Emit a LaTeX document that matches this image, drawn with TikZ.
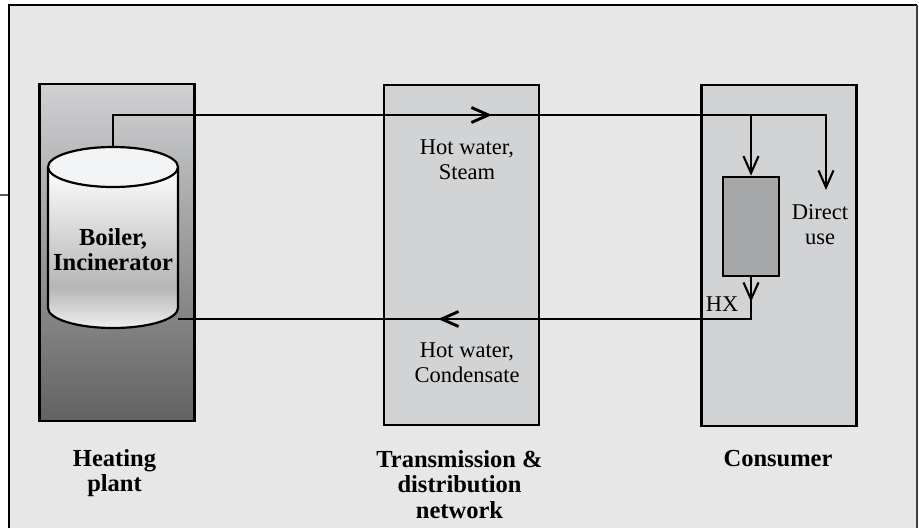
\documentclass[tikz,border=0pt]{standalone}
\usepackage{fontspec}
\setmainfont{Liberation Serif}
\usetikzlibrary{arrows.meta}

\definecolor{framebg}{HTML}{E7E7E7}
\definecolor{boxfill}{HTML}{D2D3D5}
\definecolor{hxfill}{HTML}{A6A7A9}
\definecolor{plantTop}{HTML}{D0D1D3}
\definecolor{plantBot}{HTML}{626262}
\definecolor{capfill}{HTML}{F3F4F6}
\definecolor{bandgray}{HTML}{B6B6B6}

\tikzset{
  barb/.tip={Straight Barb[length=17pt,width=15pt]},
  zone/.style={draw=black, line width=2.6pt, fill=boxfill, inner sep=0pt, minimum width=155pt},
  pipe/.style={draw=black, line width=2.1pt, line join=miter},
  heavypipe/.style={draw=black, line width=2.9pt},
  plaintext/.style={inner sep=0pt, anchor=north, align=center, font=\fontsize{22.5}{25}\selectfont},
  boldtext/.style={inner sep=0pt, anchor=north, align=center, font=\bfseries\fontsize{24.5}{25.5}\selectfont},
}

\begin{document}
\begin{tikzpicture}[x=1pt, y=-1pt]
\useasboundingbox (0,0) rectangle (919,528);

% outer panel
\fill[framebg] (9,5) rectangle (917,528);
\draw[line width=2.6pt, line join=miter] (9,528) -- (9,5) -- (917,5);
\draw[line width=1.6pt, black!75] (917,5) -- (917,528);
\draw[line width=1.2pt, black!65] (0,195) -- (8,195);

% the three zones
\node[zone, minimum height=337pt, top color=plantTop, bottom color=plantBot] (plant) at (117,252.5) {};
\node[zone, minimum height=340pt] (net) at (461.5,255) {};
\node[zone, minimum height=341pt] (cons) at (779,255.5) {};

% pipe routing points
\coordinate (s0) at (113,147);
\coordinate (sA0) at (433,115);
\coordinate (sA) at (492,115);
\coordinate (sB) at (751,115);
\coordinate (sC) at (826,115);
\coordinate (du) at (826,190);
\coordinate (r1) at (751,302);
\coordinate (r2) at (751,319);
\coordinate (rA0) at (493,319);
\coordinate (rA) at (438,319);
\coordinate (r3) at (178,319);

% heat exchanger
\node[draw=black, line width=2.6pt, fill=hxfill, inner sep=0pt,
      minimum width=56pt, minimum height=99pt] (hx) at (751,226.5) {};

% supply line
\draw[pipe, -{barb}] (s0) |- (sC) -- (du);
\draw[heavypipe, -{barb}] (sA0) -- (sA);
\draw[pipe, -{barb}] (sB) -- (hx.north);

% return line
\draw[pipe] (hx.south) -- (r2) -- (r3);
\draw[pipe, -{barb}] (hx.south) -- (r1);
\draw[heavypipe, -{barb}] (rA0) -- (rA);

% boiler cylinder
\begin{scope}
  \clip (48,167) -- (48,308) arc[start angle=180, end angle=0, x radius=65, y radius=20]
        -- (178,167) arc[start angle=0, end angle=-180, x radius=65, y radius=20] -- cycle;
  \shade[top color=white, bottom color=bandgray] (40,165) rectangle (190,287);
  \shade[top color=bandgray, bottom color=white!95!black] (40,287) rectangle (190,330);
\end{scope}
\draw[line width=2.2pt] (48,167) -- (48,308)
   arc[start angle=180, end angle=0, x radius=65, y radius=20] -- (178,167);
\draw[line width=2.2pt, fill=capfill] (113,167) ellipse[x radius=65, y radius=20];
\node[boldtext] (boiler) at (113,228) {Boiler,\\Incinerator};

% labels
\node[plaintext] (steam) at (467,140) {Hot water,\\Steam};
\node[plaintext] (cond) at (467,343) {Hot water,\\Condensate};
\node[plaintext] (direct) at (820,204) {Direct\\use};
\node[plaintext] (hxlbl) at (722,297) {HX};

\node[boldtext] (plantlbl) at (114.5,449) {Heating\\plant};
\node[boldtext] (netlbl) at (459.5,450) {Transmission \&\\distribution\\network};
\node[boldtext] (conslbl) at (778,450) {Consumer};
\end{tikzpicture}
\end{document}
